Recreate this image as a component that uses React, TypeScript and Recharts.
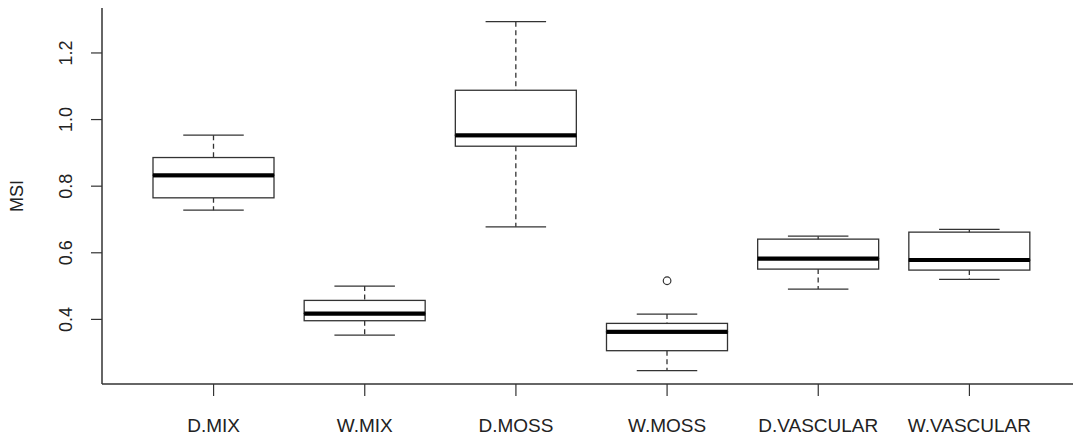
import React from "react";
import { ComposedChart, Bar, Scatter, XAxis, YAxis } from "recharts";

const categories = ["D.MIX", "W.MIX", "D.MOSS", "W.MOSS", "D.VASCULAR", "W.VASCULAR"];
const lowerWhisker = [0.728, 0.353, 0.678, 0.246, 0.491, 0.52];
const lowerQuartile = [0.765, 0.396, 0.92, 0.306, 0.551, 0.548];
const medians = [0.833, 0.418, 0.953, 0.363, 0.583, 0.578];
const upperQuartile = [0.886, 0.457, 1.088, 0.388, 0.641, 0.662];
const upperWhisker = [0.953, 0.5, 1.294, 0.416, 0.65, 0.67];
const outliers: (number | null)[] = [null, null, null, 0.516, null, null];
const yTicks = [0.4, 0.6, 0.8, 1.0, 1.2];

// stacked segments: base -> lower whisker -> lower box -> upper box -> upper whisker
const data = categories.map((name, i) => ({
  name,
  base: lowerWhisker[i],
  lowW: lowerQuartile[i] - lowerWhisker[i],
  lowBox: medians[i] - lowerQuartile[i],
  upBox: upperQuartile[i] - medians[i],
  upW: upperWhisker[i] - upperQuartile[i],
  outlier: outliers[i],
}));

const LINE = "#333";
const FONT = "'Liberation Sans', Arial, sans-serif";

const Empty = () => <g />;

const Whisker = (top: boolean) => (p: any) => {
  const cx = p.x + p.width / 2;
  const half = p.width / 4;
  const capY = top ? p.y : p.y + p.height;
  return (
    <g>
      <line x1={cx} x2={cx} y1={p.y} y2={p.y + p.height} stroke={LINE} strokeWidth={1.3} strokeDasharray="5 3.5" />
      <line x1={cx - half} x2={cx + half} y1={capY} y2={capY} stroke={LINE} strokeWidth={1.3} />
    </g>
  );
};

const BoxHalf = (upper: boolean) => (p: any) => {
  const medY = upper ? p.y + p.height : p.y;
  return (
    <g>
      <rect x={p.x} y={p.y} width={p.width} height={p.height} fill="#fff" stroke={LINE} strokeWidth={1.3} />
      <line x1={p.x} x2={p.x + p.width} y1={medY} y2={medY} stroke="#000" strokeWidth={4} />
    </g>
  );
};

const YTick = (p: any) => (
  <text
    x={p.x}
    y={p.y}
    transform={`rotate(-90, ${p.x}, ${p.y})`}
    textAnchor="middle"
    fontSize={18}
    fontFamily={FONT}
    fill="#222"
  >
    {Number(p.payload.value).toFixed(1)}
  </text>
);

const XTick = (p: any) => (
  <text x={p.x} y={p.y} dy={14} textAnchor="middle" fontSize={19} fontFamily={FONT} fill="#222">
    {p.payload.value}
  </text>
);

const OutlierDot = (p: any) =>
  p.payload?.outlier == null ? (
    <g />
  ) : (
    <circle cx={p.cx} cy={p.cy} r={3.8} fill="none" stroke={LINE} strokeWidth={1.2} />
  );

export default function App() {
  return (
    <div style={{ position: "fixed", left: 0, top: 0, width: 1073, height: 437, overflow: "hidden", background: "#fff" }}>
      <ComposedChart width={1100} height={437} data={data} margin={{ top: 8, right: 19, bottom: 0, left: 0 }}>
        <XAxis
          dataKey="name"
          height={53}
          padding={{ left: 36, right: 36 }}
          tickSize={12}
          tickMargin={22}
          tick={<XTick />}
          axisLine={{ stroke: LINE, strokeWidth: 1.5 }}
          tickLine={{ stroke: LINE, strokeWidth: 1.2 }}
        />
        <XAxis xAxisId="top" dataKey="name" orientation="top" height={0} tick={false} tickLine={false} axisLine={{ stroke: LINE, strokeWidth: 1.5 }} />
        <YAxis
          width={102}
          type="number"
          domain={[0.206, 1.335]}
          allowDataOverflow
          ticks={yTicks}
          tickSize={11}
          tickMargin={19}
          tick={<YTick />}
          axisLine={{ stroke: LINE, strokeWidth: 1.5 }}
          tickLine={{ stroke: LINE, strokeWidth: 1.2 }}
          label={{
            content: (lp: any) => {
              const vb = lp.viewBox;
              const x = vb.x + 23;
              const y = vb.y + vb.height / 2;
              return (
                <text x={x} y={y} transform={`rotate(-90, ${x}, ${y})`} textAnchor="middle" fontSize={18} fontFamily={FONT} fill="#222">
                  MSI
                </text>
              );
            },
          }}
        />
        <YAxis yAxisId="right" orientation="right" width={0} domain={[0.206, 1.335]} tick={false} tickLine={false} axisLine={{ stroke: LINE, strokeWidth: 1.5 }} />
        <Bar dataKey="base" stackId="b" barSize={121} shape={<Empty />} isAnimationActive={false} />
        <Bar dataKey="lowW" stackId="b" barSize={121} shape={Whisker(false)} isAnimationActive={false} />
        <Bar dataKey="lowBox" stackId="b" barSize={121} shape={BoxHalf(false)} isAnimationActive={false} />
        <Bar dataKey="upBox" stackId="b" barSize={121} shape={BoxHalf(true)} isAnimationActive={false} />
        <Bar dataKey="upW" stackId="b" barSize={121} shape={Whisker(true)} isAnimationActive={false} />
        <Scatter dataKey="outlier" shape={OutlierDot} isAnimationActive={false} />
      </ComposedChart>
    </div>
  );
}
